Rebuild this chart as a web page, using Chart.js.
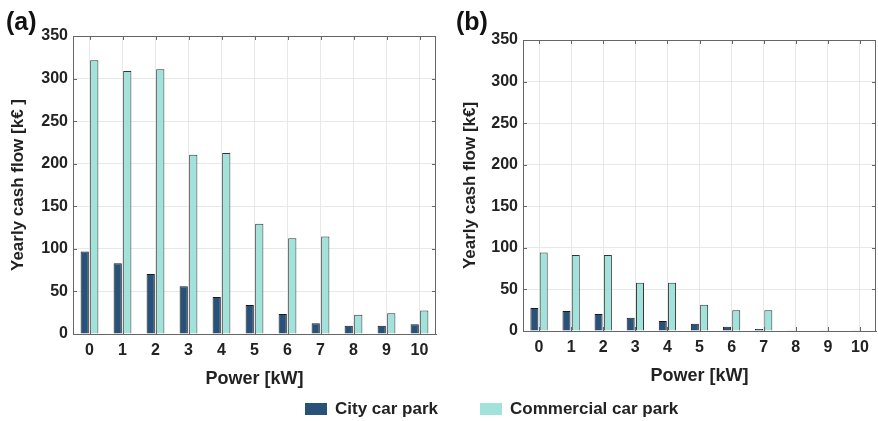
<!DOCTYPE html>
<html>
<head>
<meta charset="utf-8">
<script src="https://cdn.jsdelivr.net/npm/chart.js@4"></script>
<style>
  body { margin: 0; background: #fff; width: 878px; height: 421px; overflow: hidden; font-family: "Liberation Sans", Arial, sans-serif; }
  #wrapA { position: absolute; left: 0; top: 0; width: 440px; height: 400px; }
  #wrapB { position: absolute; left: 440px; top: 0; width: 438px; height: 400px; }
  #legend { position: absolute; left: 0; top: 399px; width: 878px; height: 20px; font-weight: bold; font-size: 17px; color: #222; }
  .item { position: absolute; top: 0; line-height: 20px; white-space: nowrap; }
  .swatch { display: inline-block; width: 22px; height: 12px; vertical-align: -1px; margin-right: 8px; }
</style>
</head>
<body>
<div id="wrapA"><canvas id="chartA" width="440" height="400"></canvas></div>
<div id="wrapB"><canvas id="chartB" width="438" height="400"></canvas></div>
<div id="legend">
  <div class="item" style="left:305px"><span class="swatch" style="background:#28527a"></span>City car park</div>
  <div class="item" style="left:480px"><span class="swatch" style="background:#a1e3da"></span>Commercial car park</div>
</div>
<script>
const powerLabels = ['0', '1', '2', '3', '4', '5', '6', '7', '8', '9', '10'];
const yTicks = [0, 50, 100, 150, 200, 250, 300, 350];

// panel (a)
const cityA = [97, 83, 70.5, 56, 43.5, 34, 23.5, 12.5, 9.8, 9.8, 11.4];
const commercialA = [321.5, 309, 311, 210.5, 212.5, 129.5, 112.5, 114.5, 22.5, 24.5, 27.5];

// panel (b)
const cityB = [27.7, 24, 20.4, 16, 12, 8.8, 5.2, 2.4, 1, 1, 1];
const commercialB = [94.5, 91.3, 91.3, 58, 58, 31.7, 24.9, 24.9, 0.5, 0.5, 0.5];

const FONT = '"Liberation Sans", Arial, sans-serif';
const AXIS_GRAY = '#666';

// MATLAB style box + panel label
const boxPlugin = {
    id: 'boxPlugin',
    afterDraw(chart, args, opts) {
        const { ctx, chartArea: a } = chart;
        ctx.save();
        ctx.strokeStyle = AXIS_GRAY;
        ctx.lineWidth = 1;
        ctx.beginPath();
        ctx.moveTo(a.left, a.top + 0.5);
        ctx.lineTo(a.right - 0.5, a.top + 0.5);
        ctx.lineTo(a.right - 0.5, a.bottom);
        ctx.stroke();
        // inward tick marks on all four sides
        const xs = chart.scales.x;
        ctx.beginPath();
        xs.ticks.forEach((t, i) => {
            const px = Math.round(xs.getPixelForTick(i)) + 0.5;
            ctx.moveTo(px, a.top);
            ctx.lineTo(px, a.top + 4);
            ctx.moveTo(px, a.bottom);
            ctx.lineTo(px, a.bottom - 4);
        });
        const ys = chart.scales.y;
        ys.ticks.forEach((t, i) => {
            const py = Math.round(ys.getPixelForTick(i)) + 0.5;
            ctx.moveTo(a.left, py);
            ctx.lineTo(a.left + 4, py);
            ctx.moveTo(a.right, py);
            ctx.lineTo(a.right - 4, py);
        });
        ctx.stroke();
        ctx.fillStyle = '#111';
        ctx.font = 'bold 25px ' + FONT;
        ctx.textBaseline = 'middle';
        ctx.fillText(opts.label, opts.lx, 23);
        ctx.restore();
    }
};

function makeChart(id, city, commercial, yTitle, label, lx, pad, yWidth, titleX) {
    const ctx = document.getElementById(id).getContext('2d');
    return new Chart(ctx, {
        type: 'bar',
        data: {
            labels: powerLabels,
            datasets: [{
                label: 'City car park',
                data: city,
                backgroundColor: '#28527a',
                borderColor: '#1a1a1a',
                borderWidth: 1,
                categoryPercentage: 0.58,
                barPercentage: 0.86
            }, {
                label: 'Commercial car park',
                data: commercial,
                backgroundColor: '#a1e3da',
                borderColor: '#333',
                borderWidth: 1,
                categoryPercentage: 0.58,
                barPercentage: 0.86
            }]
        },
        options: {
            responsive: false,
            animation: false,
            layout: { padding: pad },
            plugins: {
                legend: { display: false },
                tooltip: { enabled: false },
                boxPlugin: { label: label, lx: lx }
            },
            scales: {
                x: {
                    offset: true,
                    grid: { offset: false, color: '#e8e8e8', drawTicks: false },
                    border: { color: AXIS_GRAY, width: 1 },
                    ticks: { color: '#222', font: { family: FONT, size: 16, weight: 'bold' }, padding: 7, maxRotation: 0 },
                    title: { display: true, text: 'Power [kW]', color: '#222', font: { family: FONT, size: 18, weight: 'bold' }, padding: { top: 0, bottom: 10 } },
                    afterFit(scale) { scale.height = 66; }
                },
                y: {
                    min: 0,
                    max: 350,
                    afterBuildTicks(scale) { scale.ticks = yTicks.map(v => ({ value: v })); },
                    grid: { color: '#e8e8e8', drawTicks: false },
                    border: { color: AXIS_GRAY, width: 1 },
                    ticks: { color: '#222', font: { family: FONT, size: 16, weight: 'bold' }, padding: 5 },
                    title: { display: true, text: yTitle, color: '#222', font: { family: FONT, size: 17, weight: 'bold' }, padding: { top: titleX, bottom: 0 } },
                    afterFit(scale) { scale.width = yWidth; }
                }
            }
        },
        plugins: [boxPlugin]
    });
}

makeChart('chartA', cityA, commercialA, 'Yearly cash flow [k€ ]', '(a)', 6,
    { top: 36, right: 4, left: 0, bottom: 0 }, 73, 8);
makeChart('chartB', cityB, commercialB, 'Yearly cash flow [k€]', '(b)', 16,
    { top: 40, right: 2, left: 0, bottom: 3 }, 83, 20);
</script>
</body>
</html>
